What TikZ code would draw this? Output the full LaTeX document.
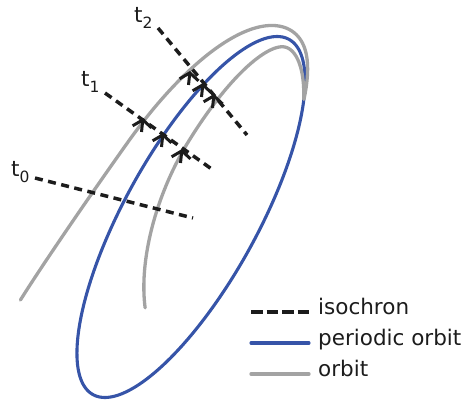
\documentclass[tikz,border=0pt]{standalone}
\usepackage{fontspec}
\setmainfont{DejaVu Sans}
\usetikzlibrary{arrows.meta}
\definecolor{pblue}{RGB}{54,84,168}
\definecolor{ogray}{RGB}{163,163,163}
\definecolor{iblack}{RGB}{28,28,28}
\tikzset{
  declare function={
    ex(\t)=191+98.05*cos(\t)-58.28*sin(\t);
    ey(\t)=188+177.6*cos(\t)+32.17*sin(\t);
    tx(\t)=-0.9805*sin(\t)-0.5828*cos(\t);
    ty(\t)=-1.776*sin(\t)+0.3217*cos(\t);
    tn(\t)=sqrt(tx(\t)^2+ty(\t)^2);
    dout(\t)=21.5*(\t+39.6)/100+95*(max(0,(\t+39.6)/100-1.2))^2;
    din(\t)=22*(\t+39.6)/100+82*(max(0,(\t+39.6)/100-1.1))^2;
  },
  periodic/.style={draw=pblue,line width=3.1pt},
  orbitline/.style={draw=ogray,line width=3.3pt,line cap=round},
  isoline/.style={draw=iblack,line width=3.5pt,dash pattern=on 8pt off 5.5pt},
  flowarrow/.style={draw=iblack,line width=3pt,-{Straight Barb[length=7pt,width=19pt]}},
  tlabel/.style={anchor=base west,inner sep=0pt,font=\fontsize{21.5}{25}\selectfont,text=iblack},
  legtext/.style={anchor=mid west,inner sep=0pt,font=\fontsize{21.5}{25}\selectfont,text=iblack},
}
\newcommand{\tsub}[1]{t\raisebox{-5.5pt}{\fontsize{15.5}{15}\selectfont #1}}
\begin{document}
\begin{tikzpicture}[x=1pt,y=1pt]
\useasboundingbox (0,0) rectangle (466,405);
% periodic orbit
\draw[periodic] plot[domain=0:360,samples=240,variable=\t] ({ex(\t)},{ey(\t)}) -- cycle;
% orbits
\draw[orbitline] plot[domain=132.5:-39,samples=200,variable=\t]
  ({ex(\t)+dout(\t)*ty(\t)/tn(\t)},{ey(\t)-dout(\t)*tx(\t)/tn(\t)});
\draw[orbitline] plot[domain=124.5:-39,samples=200,variable=\t]
  ({ex(\t)-din(\t)*ty(\t)/tn(\t)},{ey(\t)+din(\t)*tx(\t)/tn(\t)});
% labels
\node[tlabel] (l0) at (11,228) {\tsub{0}};
\node[tlabel] (l1) at (81,318) {\tsub{1}};
\node[tlabel] (l2) at (134,382) {\tsub{2}};
% isochrons
\coordinate (i0a) at (35,227); \coordinate (i0b) at (193,187);
\coordinate (i1a) at (105,312); \coordinate (i1b) at (213,235);
\coordinate (i2a) at (158,377); \coordinate (i2b) at (247,270);
\draw[isoline] (i0a) -- (i0b);
\draw[isoline] (i1a) -- (i1b);
\draw[isoline] (i2a) -- (i2b);
% arrows
\foreach \n/\x/\y in {a/143/287,b/163/272,c/182/256,d/190/334,e/203/322,f/214/311}{
  \coordinate (h\n) at (\x,\y);
  \coordinate (s\n) at (\x-1.5,\y-14);
  \draw[flowarrow] (s\n) -- (h\n);
}
% legend
\coordinate (k1a) at (251,93); \coordinate (k1b) at (309,93);
\coordinate (k2a) at (251,62); \coordinate (k2b) at (309,62);
\coordinate (k3a) at (251,31); \coordinate (k3b) at (309,31);
\draw[draw=iblack,line width=3.5pt,dash pattern=on 11.5pt off 4pt] (k1a) -- (k1b);
\draw[periodic,line cap=round] (k2a) -- (k2b);
\draw[orbitline] (k3a) -- (k3b);
\node[legtext] (g1) at (318,93) {isochron};
\node[legtext] (g2) at (318,62) {periodic orbit};
\node[legtext] (g3) at (318,31) {orbit};
\end{tikzpicture}
\end{document}
